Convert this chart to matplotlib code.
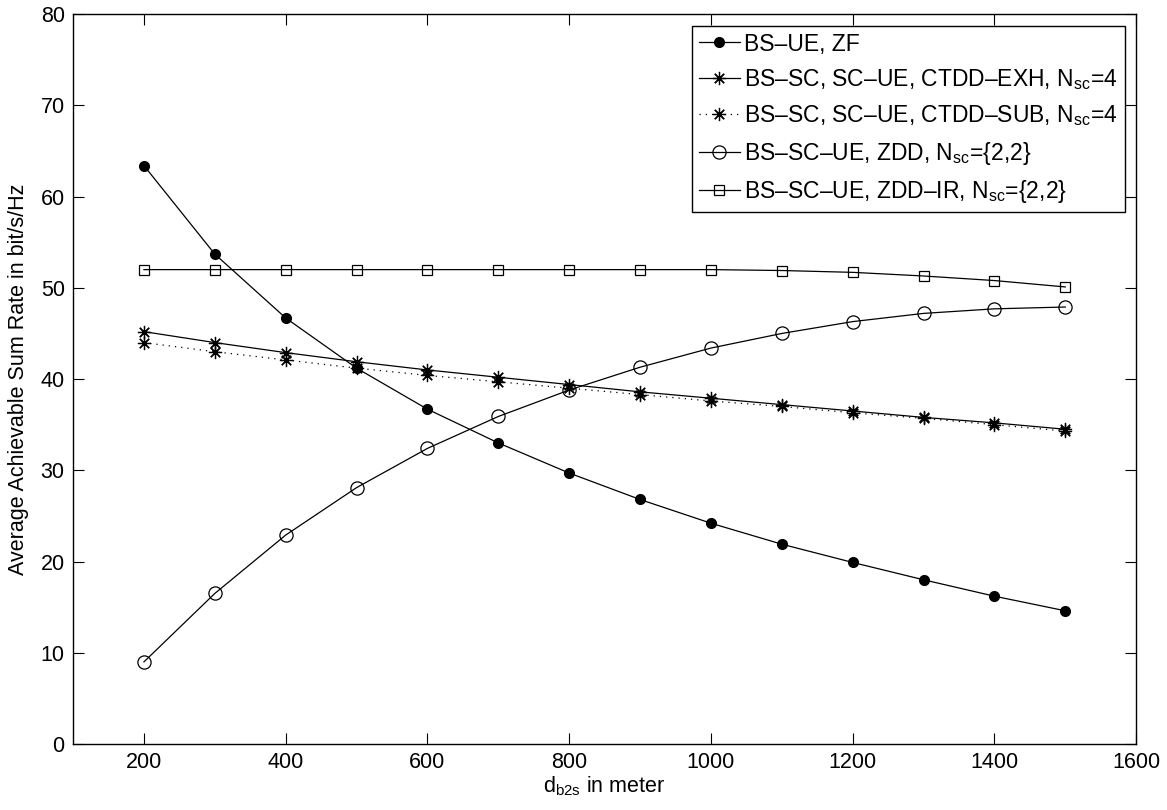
import matplotlib
matplotlib.use("Agg")
import matplotlib.pyplot as plt
import numpy as np

plt.rcParams['font.family'] = ['Liberation Sans', 'DejaVu Sans']
plt.rcParams['mathtext.fontset'] = 'custom'
plt.rcParams['mathtext.rm'] = 'Liberation Sans'
plt.rcParams['mathtext.it'] = 'Liberation Sans'

# distances (m)
d_b2s = [200, 300, 400, 500, 600, 700, 800, 900, 1000, 1100, 1200, 1300, 1400, 1500]

zf = [63.4, 53.7, 46.7, 41.2, 36.7, 33.0, 29.7, 26.8, 24.2, 21.9, 19.9, 18.0, 16.2, 14.6]
ctdd_exh = [45.2, 44.0, 42.9, 41.9, 41.0, 40.2, 39.4, 38.6, 37.9, 37.2, 36.5, 35.8, 35.2, 34.5]
ctdd_sub = [44.0, 43.0, 42.1, 41.2, 40.4, 39.7, 39.0, 38.3, 37.6, 37.0, 36.3, 35.7, 35.0, 34.3]
zdd = [9.0, 16.5, 22.9, 28.1, 32.4, 35.9, 38.8, 41.3, 43.4, 45.0, 46.3, 47.2, 47.7, 47.9]
zdd_ir = [52.0, 52.0, 52.0, 52.0, 52.0, 52.0, 52.0, 52.0, 52.0, 51.9, 51.7, 51.3, 50.8, 50.1]

sub = r'N$_{\mathregular{sc}}$'
labels = ['BS\u2013UE, ZF',
          'BS\u2013SC, SC\u2013UE, CTDD\u2013EXH, ' + sub + '=4',
          'BS\u2013SC, SC\u2013UE, CTDD\u2013SUB, ' + sub + '=4',
          'BS\u2013SC\u2013UE, ZDD, ' + sub + '={2,2}',
          'BS\u2013SC\u2013UE, ZDD\u2013IR, ' + sub + '={2,2}']

fig = plt.figure(figsize=(11.67, 8.10), dpi=100)
ax = fig.add_axes([0.0626, 0.0815, 0.911, 0.901])

lw = 0.9
ax.plot(d_b2s, zf, 'k-', lw=lw, marker='o', ms=7, mfc='k', label=labels[0])
ax.plot(d_b2s, ctdd_exh, 'k-', lw=lw, marker=(8, 2, 0), ms=9.5, mew=0.9, label=labels[1])
ax.plot(d_b2s, ctdd_sub, 'k', ls=(0, (1, 4)), lw=lw, marker=(8, 2, 0), ms=9.5, mew=0.9, label=labels[2])
ax.plot(d_b2s, zdd, 'k-', lw=lw, marker='o', ms=9.5, mfc='none', mew=0.9, label=labels[3])
ax.plot(d_b2s, zdd_ir, 'k-', lw=lw, marker='s', ms=7.5, mfc='none', mew=0.9, label=labels[4])

ax.set_xlim(100, 1600)
ax.set_ylim(0, 80)
ax.set_xticks(np.arange(200, 1601, 200))
ax.set_yticks(np.arange(0, 81, 10))
ax.tick_params(direction='in', top=True, right=True, labelsize=15.5, length=8, width=0.8, pad=6)
for s in ax.spines.values():
    s.set_linewidth(1.0)

ax.set_xlabel(r'd$_{\mathregular{b2s}}$ in meter', fontsize=15.5, labelpad=1)
ax.set_ylabel('Average Achievable Sum Rate in bit/s/Hz', fontsize=15.5, labelpad=8)

leg = ax.legend(loc='upper right', fontsize=16.5, fancybox=False, framealpha=1,
                edgecolor='k', handlelength=1.8, borderaxespad=0.5,
                labelspacing=0.5, handletextpad=0.2, borderpad=0.3)
leg.get_frame().set_linewidth(1.0)

fig.savefig('out.png', dpi=100)
